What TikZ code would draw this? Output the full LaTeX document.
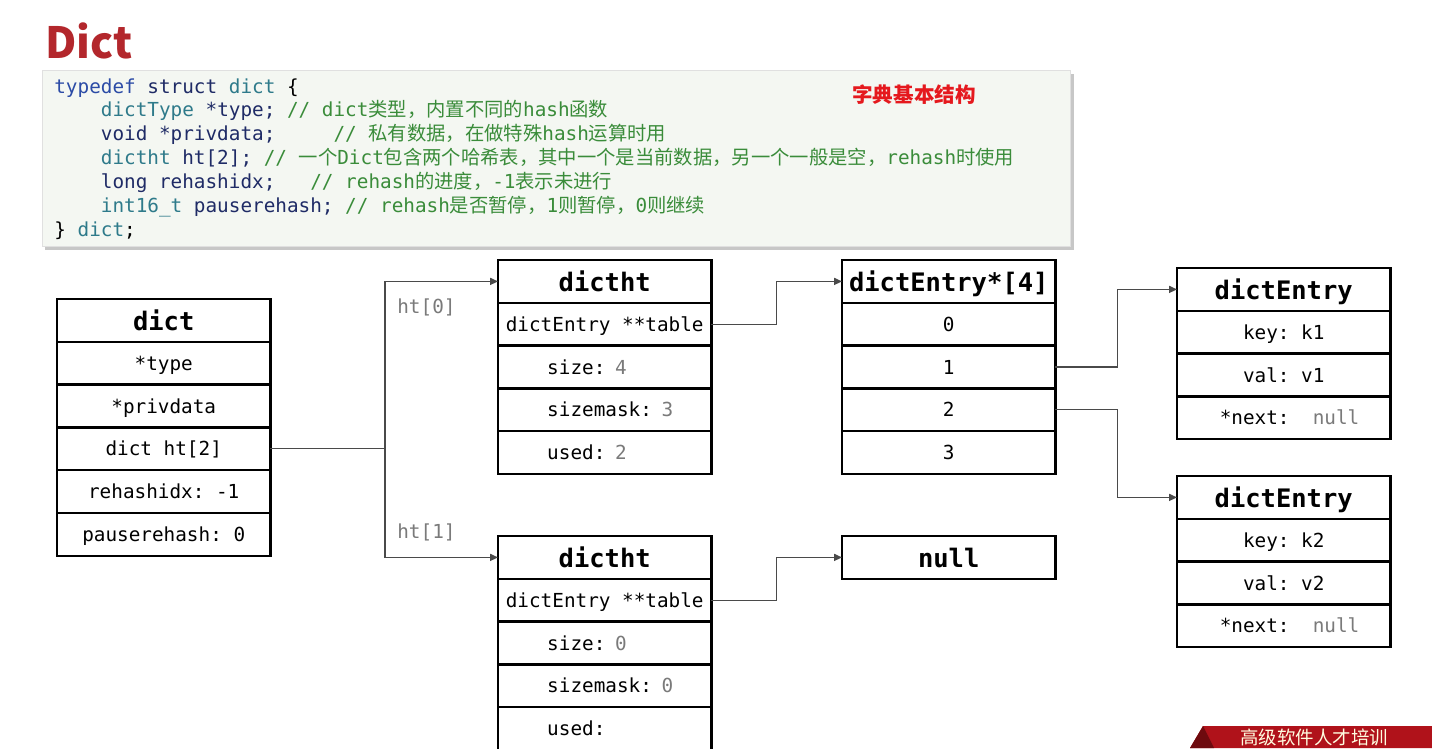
\documentclass[tikz,border=0pt]{standalone}
\usepackage{fontspec}
\setmainfont{DejaVu Sans}
\setmonofont{DejaVu Sans Mono}
\newfontfamily\cjk{Noto Sans CJK SC}
\usetikzlibrary{positioning,arrows.meta}

\definecolor{titlered}{HTML}{B3272C}
\definecolor{notered}{HTML}{E5191E}
\definecolor{codebg}{HTML}{F4F7F2}
\definecolor{codeblue}{HTML}{2B4BA6}
\definecolor{codenavy}{HTML}{1F2B66}
\definecolor{codeteal}{HTML}{2E7A8A}
\definecolor{codegreen}{HTML}{3A8C3A}
\definecolor{valgray}{HTML}{7A7A7A}
\definecolor{linkgray}{HTML}{4A4A4A}
\definecolor{bannerred}{HTML}{B0121A}
\definecolor{bannerdark}{HTML}{6E0A0E}

\newcommand{\boxfont}{\ttfamily\fontsize{11}{13}\selectfont}
\newcommand{\headfont}{\ttfamily\bfseries\fontsize{14.5}{16}\selectfont}
\newcommand{\zh}[1]{{\cjk #1}}
\newcommand{\val}[1]{{\color{valgray}#1}}

\tikzset{
  cell/.style={draw, line width=1.4pt, minimum width=4.27cm, minimum height=0.856cm,
    inner sep=0pt, outer sep=0pt, font=\boxfont, text height=10.5pt, text depth=2.5pt},
  head/.style={cell, font=\headfont, text height=14pt, text depth=3pt},
  lcell/.style={cell, text width=3.3cm, align=left, execute at begin node={\hspace*{0.5cm}}},
  link/.style={draw=linkgray, line width=0.75pt, -{Triangle[length=4.5pt,width=4pt]}},
  htlabel/.style={anchor=west, inner sep=0pt, text=valgray, font=\boxfont},
}

\begin{document}
\begin{tikzpicture}[x=0.02cm, y=-0.02cm]
	\clip (0,0) rectangle (1432,748);
	\fill[white] (0,0) rectangle (1432,748);

	% title and struct source
	\node(title)[anchor=base west, inner sep=0pt, text=titlered, font=\cjk\bfseries\fontsize{24.5}{28}\selectfont] at (45,58){Dict};
	\fill[black!22] (45,74) rectangle (1074,250);
	\fill[codebg, draw=black!12] (42,70) rectangle (1070,246);
	\node(code)[anchor=north west, inner sep=0pt, align=left, font=\ttfamily\fontsize{11}{13.6}\selectfont] at (54,78){%
		{\color{codeblue}typedef} {\color{codenavy}struct} {\color{codeteal}dict} \{\\
		\phantom{abcd}{\color{codeteal}dictType} {\color{codenavy}*type;} {\color{codegreen}// dict\zh{类型，内置不同的}hash\zh{函数}}\\
		\phantom{abcd}{\color{codenavy}void *privdata;}~~~~~{\color{codegreen}// \zh{私有数据，在做特殊}hash\zh{运算时用}}\\
		\phantom{abcd}{\color{codeteal}dictht} {\color{codenavy}ht[2];} {\color{codegreen}// \zh{一个}Dict\zh{包含两个哈希表，其中一个是当前数据，另一个一般是空，}rehash\zh{时使用}}\\
		\phantom{abcd}{\color{codenavy}long rehashidx;}~~~{\color{codegreen}// rehash\zh{的进度，}-1\zh{表示未进行}}\\
		\phantom{abcd}{\color{codeteal}int16\_t} {\color{codenavy}pauserehash;} {\color{codegreen}// rehash\zh{是否暂停，}1\zh{则暂停，}0\zh{则继续}}\\
		\} {\color{codeteal}dict};};
	\node(note)[text=notered, font=\cjk\bfseries\fontsize{11.7}{14}\selectfont] at (914,95){字典基本结构};

	% dict
	\node(dict)[head, anchor=north west] at (57,299){dict};
	\node(dtype)[cell, below=0pt of dict]{*type};
	\node(dpriv)[cell, below=0pt of dtype]{*privdata};
	\node(dht)[cell, below=0pt of dpriv]{dict ht[2]};
	\node(didx)[cell, below=0pt of dht]{rehashidx: -1};
	\node(dpause)[cell, below=0pt of didx]{pauserehash: 0};

	% ht[0]
	\node(ht0)[head, anchor=north west] at (498,260){dictht};
	\node(ht0tab)[cell, below=0pt of ht0]{dictEntry **table};
	\node(ht0size)[lcell, below=0pt of ht0tab]{size: \val{4}};
	\node(ht0mask)[lcell, below=0pt of ht0size]{sizemask: \val{3}};
	\node(ht0used)[lcell, below=0pt of ht0mask]{used: \val{2}};

	% ht[1]
	\node(ht1)[head, anchor=north west] at (498,536){dictht};
	\node(ht1tab)[cell, below=0pt of ht1]{dictEntry **table};
	\node(ht1size)[lcell, below=0pt of ht1tab]{size: \val{0}};
	\node(ht1mask)[lcell, below=0pt of ht1size]{sizemask: \val{0}};
	\node(ht1used)[lcell, below=0pt of ht1mask]{used:};

	% buckets
	\node(tab)[head, anchor=north west] at (842,260){dictEntry*[4]};
	\node(b0)[cell, below=0pt of tab]{0};
	\node(b1)[cell, below=0pt of b0]{1};
	\node(b2)[cell, below=0pt of b1]{2};
	\node(b3)[cell, below=0pt of b2]{3};
	\node(null)[head, anchor=north west] at (842,536){null};

	% entries
	\node(e1)[head, anchor=north west] at (1177,268){dictEntry};
	\node(e1key)[cell, below=0pt of e1]{key: k1};
	\node(e1val)[cell, below=0pt of e1key]{val: v1};
	\node(e1next)[cell, below=0pt of e1val]{~*next:~~\val{null}};
	\node(e2)[head, anchor=north west] at (1177,476){dictEntry};
	\node(e2key)[cell, below=0pt of e2]{key: k2};
	\node(e2val)[cell, below=0pt of e2key]{val: v2};
	\node(e2next)[cell, below=0pt of e2val]{~*next:~~\val{null}};

	\node(lbl0)[htlabel] at (397,307){ht[0]};
	\node(lbl1)[htlabel] at (397,532){ht[1]};

	\coordinate(fork) at (385,0);
	\draw[link] (dht.east) -- (dht.east -| fork) |- (ht0.west);
	\draw[link] (dht.east -| fork) |- (ht1.west);
	\draw[link] (ht0tab.east) -- ++(65,0) |- (tab.west);
	\draw[link] (ht1tab.east) -- ++(65,0) |- (null.west);
	\draw[link] (b1.east) -- ++(62,0) |- (e1.west);
	\draw[link] (b2.east) -- ++(62,0) |- (e2.west);

	% banner in the corner
	\fill[bannerred] (1203,726) -- (1432,726) -- (1432,748) -- (1190,748) -- cycle;
	\fill[bannerdark] (1203,726) -- (1214,748) -- (1190,748) -- cycle;
	\node(banner)[anchor=west, inner sep=0pt, text=white!88!yellow, font=\cjk\fontsize{10.5}{12}\selectfont] at (1240,737.5){高级软件人才培训};
\end{tikzpicture}
\end{document}
